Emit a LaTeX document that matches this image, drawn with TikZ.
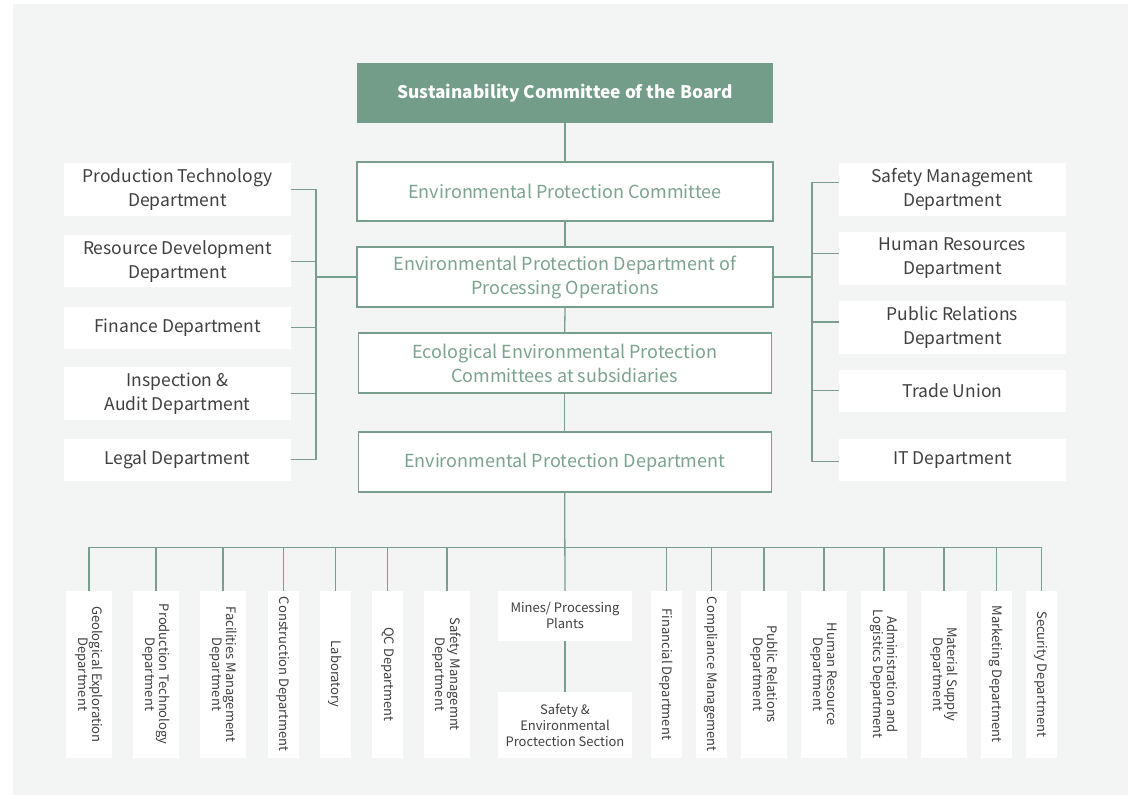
\documentclass[tikz,border=0pt]{standalone}
\usepackage{fontspec}
\setmainfont{Noto Sans CJK SC}
\definecolor{panel}{HTML}{F3F5F4}
\definecolor{topg}{HTML}{739C89}
\definecolor{lineg}{HTML}{7A9E8E}
\definecolor{txtg}{HTML}{7BA38F}
\definecolor{txtd}{HTML}{404040}
\begin{document}
\begin{tikzpicture}[x=1pt,y=-1pt,
  conn/.style={draw=lineg, line width=1.3pt},
  topbox/.style={fill=topg, inner sep=0pt, minimum width=416pt, minimum height=60pt, text=white, font=\fontsize{17.3}{22}\selectfont\bfseries},
  midbox/.style={draw=lineg, line width=1.4pt, fill=white, inner sep=0pt, text=txtg, align=center, font=\fontsize{18}{24}\selectfont},
  sidebox/.style={fill=white, inner sep=0pt, minimum width=227pt, text=txtd, align=center, font=\fontsize{17.5}{24}\selectfont},
  vbox/.style={fill=white, inner sep=0pt, rotate=-90, minimum width=166.7pt, minimum height=#1, text=txtd, align=center, font=\fontsize{13}{14.5}\selectfont},
  hbox/.style={fill=white, inner sep=0pt, minimum width=134pt, text=txtd, align=center, font=\fontsize{13}{16}\selectfont}]
\useasboundingbox (0,0) rectangle (1135,795);
\fill[white] (0,0) rectangle (1135,795);
\fill[panel] (13,4) rectangle (1128,795);

% central column
\node[topbox] (top) at (565,93) {\raisebox{-1.5pt}{Sustainability Committee of the Board}};
\node[midbox, minimum width=416pt, minimum height=59pt] (epc) at (565,191.5) {Environmental Protection Committee};
\node[midbox, minimum width=416pt, minimum height=60pt] (epdpo) at (565,277) {Environmental Protection Department of\\Processing Operations};
\node[midbox, minimum width=413pt, minimum height=60pt] (eepc) at (564.7,363) {Ecological Environmental Protection\\Committees at subsidiaries};
\node[midbox, minimum width=413pt, minimum height=60pt] (epd) at (564.7,462) {Environmental Protection Department};

% left column
\node[sidebox, minimum height=53pt] (l1) at (177.5,189.2) {Production Technology\\Department};
\node[sidebox, minimum height=52pt] (l2) at (177.5,261.2) {Resource Development\\Department};
\node[sidebox, minimum height=42pt] (l3) at (177.5,327.7) {Finance Department};
\node[sidebox, minimum height=53pt] (l4) at (177.5,393.3) {Inspection \&\\Audit Department};
\node[sidebox, minimum height=42pt] (l5) at (177.5,459.8) {Legal Department};

% right column
\node[sidebox, minimum height=53pt] (r1) at (952.5,189.2) {Safety Management\\Department};
\node[sidebox, minimum height=53pt] (r2) at (952.5,258.2) {Human Resources\\Department};
\node[sidebox, minimum height=53pt] (r3) at (952.5,327.2) {Public Relations\\Department};
\node[sidebox, minimum height=42pt] (r4) at (952.5,390.8) {Trade Union};
\node[sidebox, minimum height=42pt] (r5) at (952.5,459.8) {IT Department};

% bottom row
\node[vbox=46pt] (b1) at (89,674.3) {Geological Exploration\\Department};
\node[vbox=46pt] (b2) at (156,674.3) {Production Technology\\Department};
\node[vbox=46pt] (b3) at (223,674.3) {Facilities Management\\Department};
\node[vbox=31pt] (b4) at (283.5,674.3) {Construction Department};
\node[vbox=31pt] (b5) at (335.5,674.3) {Laboratory};
\node[vbox=31pt] (b6) at (387.5,674.3) {QC Department};
\node[vbox=46pt] (b7) at (447,674.3) {Safety Managemnt\\Department};
\node[hbox, minimum height=49.7pt] (mines) at (565,615.8) {Mines/ Processing\\Plants};
\node[hbox, minimum height=65.4pt] (sep) at (565,725) {Safety \&\\Environmental\\Proctection Section};
\node[vbox=31pt] (b8) at (666.5,674.3) {Financial Department};
\node[vbox=31pt] (b9) at (711.5,674.3) {Compliance Management};
\node[vbox=46pt] (b10) at (764,674.3) {Public Relations\\Department};
\node[vbox=46pt] (b11) at (824,674.3) {Human Resource\\Department};
\node[vbox=46pt] (b12) at (884,674.3) {Administration and\\Logistics Department};
\node[vbox=46pt] (b13) at (944,674.3) {Material Supply\\Department};
\node[vbox=31pt] (b14) at (996.5,674.3) {Marketing Department};
\node[vbox=31pt] (b15) at (1041.5,674.3) {Security Department};

% central connectors
\draw[conn] (top.south) -- (epc.north);
\draw[conn] (epc.south) -- (epdpo.north);
\draw[conn] (epdpo.south) -- (eepc.north);
\draw[conn] (eepc.south) -- (epd.north);

% left bus
\coordinate (lbus) at (316,277);
\draw[conn] (l1.east) -- (l1.east -| lbus) -- (l5.east -| lbus) -- (l5.east);
\foreach \n in {l2,l3,l4} \draw[conn] (\n.east) -- (\n.east -| lbus);
\draw[conn] (lbus) -- (epdpo.west);

% right bus
\coordinate (rbus) at (812,277);
\draw[conn] ([yshift=6.5pt]r1.west) -- ([yshift=6.5pt]r1.west -| rbus) -- ([yshift=-1.9pt]r5.west -| rbus) -- ([yshift=-1.9pt]r5.west);
\draw[conn] ([yshift=4.9pt]r2.west) -- ([yshift=4.9pt]r2.west -| rbus);
\draw[conn] ([yshift=5.2pt]r3.west) -- ([yshift=5.2pt]r3.west -| rbus);
\draw[conn] (r4.west) -- (r4.west -| rbus);
\draw[conn] (rbus) -- (epdpo.east);

% bottom bus
\coordinate (bbus) at (564.7,547.3);
\draw[conn] (epd.south) -- (mines.north);
\draw[conn] (mines.south) -- (sep.north);
\draw[conn] (b1.west |- bbus) -- (b15.west |- bbus);
\foreach \n in {b1,b2,b3,b4,b5,b6,b7,b8,b9,b10,b11,b12,b13,b14,b15}
  \draw[conn] (\n.west) -- (\n.west |- bbus);
\end{tikzpicture}
\end{document}
